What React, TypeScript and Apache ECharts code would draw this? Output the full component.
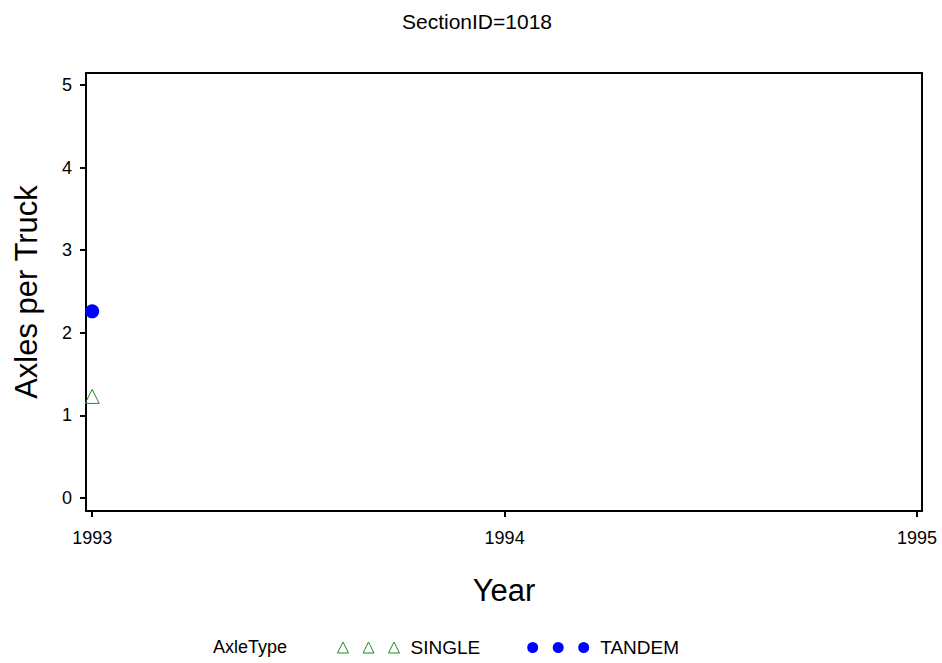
import React, { useEffect, useRef } from "react";
import * as echarts from "echarts";

const years = [1993];
const singleValues = [1.23];
const tandemValues = [2.26];
const xTicks = [1993, 1994, 1995];
const yTicks = [0, 1, 2, 3, 4, 5];
const seriesNames = ["SINGLE", "TANDEM"];

const triIcon =
  "path://M0,11 L5.5,0 L11,11 Z M25.5,11 L31,0 L36.5,11 Z M51,11 L56.5,0 L62,11 Z";
const dotIcon =
  "path://M0,5.5 a5.5,5.5 0 1,0 11,0 a5.5,5.5 0 1,0 -11,0 Z M25.5,5.5 a5.5,5.5 0 1,0 11,0 a5.5,5.5 0 1,0 -11,0 Z M51,5.5 a5.5,5.5 0 1,0 11,0 a5.5,5.5 0 1,0 -11,0 Z";

const GREEN = "#1f8a1f";
const BLUE = "#0000ff";
const FONT = "Liberation Sans, Arial, sans-serif";

export default function App() {
  const ref = useRef<HTMLDivElement>(null);
  useEffect(() => {
    if (!ref.current) return;
    const chart = echarts.init(ref.current, null, { renderer: "svg" });
    chart.setOption({
      animation: false,
      backgroundColor: "#ffffff",
      textStyle: { fontFamily: FONT, color: "#000" },
      title: {
        text: "SectionID=1018",
        left: 472,
        textAlign: "center",
        top: 6,
        textStyle: { fontSize: 21, fontWeight: "normal", color: "#000", fontFamily: FONT },
      },
      grid: {
        left: 86,
        top: 73,
        right: 20,
        bottom: 152,
        show: true,
        borderColor: "#000",
        borderWidth: 2,
        backgroundColor: "transparent",
        outerBoundsMode: "none",
        containLabel: false,
      },
      xAxis: {
        type: "value",
        min: 1992.985,
        max: 1995.012,
        name: "Year",
        nameLocation: "middle",
        nameGap: 64,
        nameTextStyle: { fontSize: 31, color: "#000", fontFamily: FONT },
        axisLine: { show: false, onZero: false },
        axisTick: {
          show: true,
          customValues: xTicks,
          length: 6,
          lineStyle: { color: "#000", width: 2 },
        },
        axisLabel: {
          customValues: xTicks,
          formatter: (v: number) => String(v),
          fontSize: 18,
          color: "#000",
          margin: 18,
          fontFamily: FONT,
          hideOverlap: false,
        },
        splitLine: { show: false },
      },
      yAxis: {
        type: "value",
        min: -0.157,
        max: 5.145,
        name: "Axles per Truck",
        nameLocation: "middle",
        nameGap: 44,
        nameTextStyle: { fontSize: 31, color: "#000", fontFamily: FONT },
        axisLine: { show: false, onZero: false },
        axisTick: {
          show: true,
          customValues: yTicks,
          length: 6,
          lineStyle: { color: "#000", width: 2 },
        },
        axisLabel: {
          customValues: yTicks,
          formatter: (v: number) => String(v),
          fontSize: 18,
          color: "#000",
          margin: 14,
          fontFamily: FONT,
        },
        splitLine: { show: false },
      },
      legend: {
        left: 332,
        top: 633,
        itemWidth: 62,
        itemHeight: 11,
        itemGap: 47,
        textStyle: { fontSize: 19, color: "#000", fontFamily: FONT, padding: [0, 0, 0, 6] },
        data: [
          {
            name: seriesNames[0],
            icon: triIcon,
            itemStyle: { color: "transparent", borderColor: GREEN, borderWidth: 1, opacity: 1 },
          },
          {
            name: seriesNames[1],
            icon: dotIcon,
            itemStyle: { color: BLUE, borderWidth: 0, opacity: 1 },
          },
        ],
      },
      graphic: [
        {
          type: "text",
          left: 213,
          top: 638,
          style: { text: "AxleType", fontSize: 18, fill: "#000", fontFamily: FONT },
        },
      ],
      series: [
        {
          name: seriesNames[0],
          type: "scatter",
          symbol: "triangle",
          symbolSize: 14,
          itemStyle: { color: "transparent", borderColor: GREEN, borderWidth: 1, opacity: 1 },
          data: years.map((y, i) => [y, singleValues[i]]),
        },
        {
          name: seriesNames[1],
          type: "scatter",
          symbol: "circle",
          symbolSize: 14,
          itemStyle: { color: BLUE, opacity: 1 },
          data: years.map((y, i) => [y, tandemValues[i]]),
        },
      ],
    });
    return () => chart.dispose();
  }, []);
  return (
    <div
      ref={ref}
      style={{ position: "fixed", left: 0, top: 0, width: 942, height: 663 }}
    />
  );
}
